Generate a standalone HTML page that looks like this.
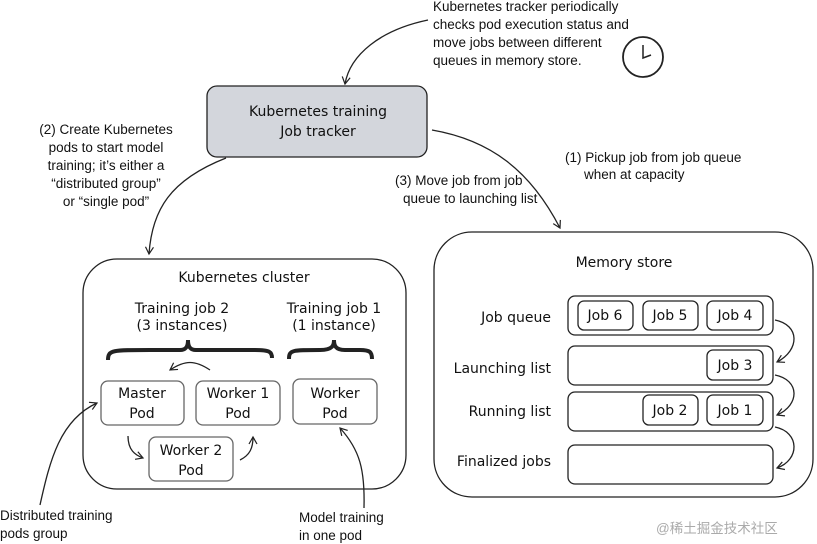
<!DOCTYPE html>
<html><head><style>body{margin:0;background:#fff}svg{display:block}
.h{font-family:"DejaVu Sans","Liberation Sans",sans-serif;font-size:14px;fill:#111}
.s{font-family:"Liberation Sans",sans-serif;font-size:13.5px;fill:#111}
</style></head><body>
<svg width="817" height="544" viewBox="0 0 817 544" xmlns="http://www.w3.org/2000/svg">
<defs><marker id="a" markerWidth="10" markerHeight="10" refX="8" refY="5" orient="auto" markerUnits="userSpaceOnUse"><path d="M1,1 L8,5 L1,9" fill="none" stroke="#222" stroke-width="1.2"/></marker></defs>
<g fill="none" stroke="#222" stroke-width="1.3">
<rect x="207" y="86" width="220" height="71" rx="10" fill="#d3d6dc"/>
<rect x="83" y="259" width="323" height="230" rx="34"/>
<rect x="434" y="232" width="379" height="265" rx="38"/>
<rect x="568" y="296" width="205" height="39" rx="7"/>
<rect x="568" y="346" width="205" height="39" rx="7"/>
<rect x="568" y="392" width="205" height="39" rx="7"/>
<rect x="568" y="445" width="205" height="39" rx="7"/>
<rect x="578" y="301" width="55" height="29" rx="6"/>
<rect x="643" y="301" width="55" height="29" rx="6"/>
<rect x="707" y="301" width="56" height="29" rx="6"/>
<rect x="707" y="350" width="56" height="30" rx="6"/>
<rect x="643" y="395" width="55" height="30" rx="6"/>
<rect x="707" y="395" width="56" height="30" rx="6"/>
<rect x="101" y="381" width="83" height="44" rx="7" stroke="#666"/>
<rect x="196" y="381" width="84" height="44" rx="7" stroke="#666"/>
<rect x="149" y="437" width="84" height="44" rx="7" stroke="#666"/>
<rect x="293" y="379" width="84" height="45" rx="7" stroke="#666"/>
<circle cx="643" cy="57" r="20" stroke-width="1.8"/>
<path d="M643,45 L643,58 L651,55" stroke-width="1.5"/>
<path d="M428,20 C380,30 350,55 345,84" marker-end="url(#a)"/>
<path d="M226,158 C170,180 152,210 149,254" marker-end="url(#a)"/>
<path d="M432,130 C490,140 530,170 560,228" marker-end="url(#a)"/>
<path d="M775,320 C800,325 800,350 777,362" marker-end="url(#a)"/>
<path d="M775,375 C800,380 800,405 777,415" marker-end="url(#a)"/>
<path d="M775,427 C800,432 800,460 777,468" marker-end="url(#a)"/>
<path d="M210,370 C195,360 185,360 170,370" marker-end="url(#a)"/>
<path d="M128,436 C128,450 135,455 143,458" marker-end="url(#a)"/>
<path d="M240,460 C250,455 253,448 253,437" marker-end="url(#a)"/>
<path d="M40,505 C50,460 60,420 97,403" marker-end="url(#a)"/>
<path d="M364,508 C365,470 360,450 340,428" marker-end="url(#a)"/>
<path d="M108,360 C108,350 112,350 150,350 L180,350 C187,350 188,345 188,340 C188,345 189,350 196,350 L255,350 C270,350 272,352 272,358" stroke-width="4"/>
<path d="M289,359 C289,350 292,350 320,350 C333,350 334,345 334,340 C334,345 335,350 345,350 L360,350 C370,350 372,352 372,359" stroke-width="4"/>
</g>
<g class="h" text-anchor="middle">
<text x="318" y="116">Kubernetes training</text>
<text x="318" y="136">Job tracker</text>
<text x="244" y="282">Kubernetes cluster</text>
<text x="182" y="313">Training job 2</text>
<text x="182" y="330">(3 instances)</text>
<text x="334" y="313">Training job 1</text>
<text x="334" y="330">(1 instance)</text>
<text x="142" y="398">Master</text><text x="142" y="418">Pod</text>
<text x="238" y="398">Worker 1</text><text x="238" y="418">Pod</text>
<text x="191" y="455">Worker 2</text><text x="191" y="475">Pod</text>
<text x="335" y="398">Worker</text><text x="335" y="418">Pod</text>
<text x="624" y="267">Memory store</text>
<text x="605" y="320">Job 6</text><text x="670" y="320">Job 5</text><text x="735" y="320">Job 4</text>
<text x="735" y="370">Job 3</text><text x="670" y="415">Job 2</text><text x="735" y="415">Job 1</text>
</g>
<g class="h" text-anchor="end">
<text x="551" y="322">Job queue</text>
<text x="551" y="373">Launching list</text>
<text x="551" y="416">Running list</text>
<text x="551" y="466">Finalized jobs</text>
</g>
<g class="s">
<text x="433" y="11">Kubernetes tracker periodically</text>
<text x="433" y="29">checks pod execution status and</text>
<text x="433" y="47">move jobs between different</text>
<text x="433" y="65">queues in memory store.</text>
<text x="565" y="162">(1) Pickup job from job queue</text>
<text x="584" y="179">when at capacity</text>
<text x="395" y="185">(3) Move job from job</text>
<text x="403" y="203">queue to launching list</text>
<text x="0" y="520">Distributed training</text>
<text x="0" y="538">pods group</text>
<text x="299" y="522">Model training</text>
<text x="299" y="540">in one pod</text>
<text x="656" y="533" style="fill:#aaa;font-family:'Liberation Sans','Noto Sans CJK SC',sans-serif">@稀土掘金技术社区</text>
</g>
<g class="s" text-anchor="middle">
<text x="106" y="134">(2) Create Kubernetes</text>
<text x="106" y="152">pods to start model</text>
<text x="106" y="170">training; it’s either a</text>
<text x="106" y="188">“distributed group”</text>
<text x="106" y="206">or “single pod”</text>
</g>
</svg>
</body></html>
